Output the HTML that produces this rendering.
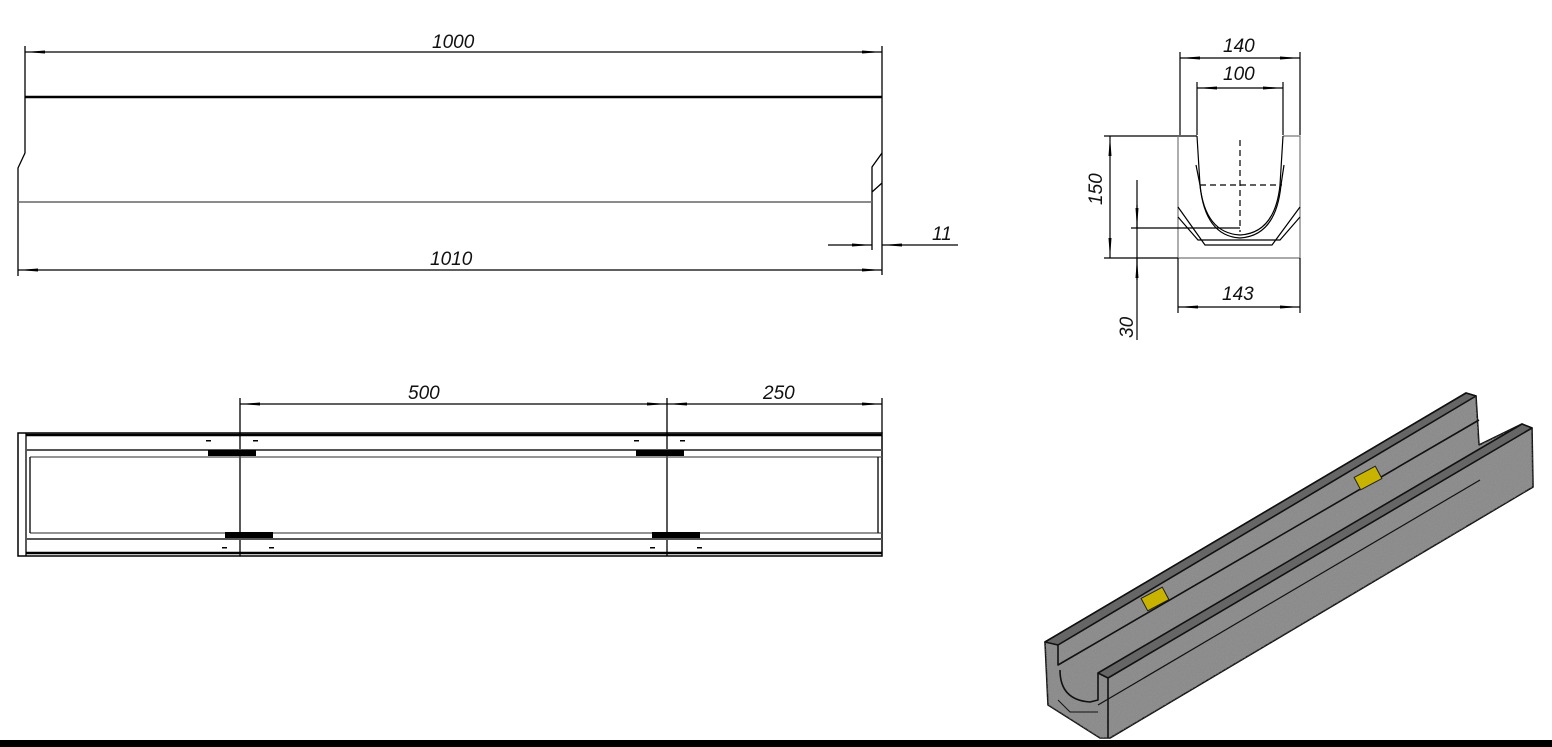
<!DOCTYPE html>
<html><head><meta charset="utf-8"><style>
body{margin:0;background:#fff;width:1552px;height:747px;overflow:hidden}
svg{display:block}
text{font-family:"Liberation Sans",sans-serif;font-style:italic;font-size:19px;fill:#111}
</style></head><body>
<svg width="1552" height="747" viewBox="0 0 1552 747" xmlns="http://www.w3.org/2000/svg">
<defs>
<marker id="a" viewBox="0 0 20 6" refX="20" refY="3" markerWidth="20" markerHeight="6" orient="auto-start-reverse" markerUnits="userSpaceOnUse"><path d="M0,1.5 L20,3 L0,4.5z" fill="#000"/></marker>
<filter id="n"><feTurbulence type="fractalNoise" baseFrequency="0.9" numOctaves="2" result="t"/><feColorMatrix in="t" type="matrix" values="0 0 0 0 0.3 0 0 0 0 0.3 0 0 0 0 0.3 0 0 0 -1.5 1.0"/><feComposite in2="SourceGraphic" operator="in"/></filter>
</defs>
<g stroke="#000" fill="none" stroke-width="1.3">
<line x1="25" y1="46" x2="25" y2="97"/><line x1="882" y1="46" x2="882" y2="275"/>
<line x1="25" y1="52" x2="882" y2="52" marker-start="url(#a)" marker-end="url(#a)"/>
<line x1="25" y1="97" x2="882" y2="97" stroke-width="2.5"/>
<path d="M25,97 L25,153 L18,168 L18,276"/>
<path d="M882,153 L872,167 L872,250 M872,192 L882,183"/>
<line x1="18" y1="202" x2="872" y2="202" stroke="#666" stroke-width="1.5"/>
<line x1="18" y1="270" x2="882" y2="270" marker-start="url(#a)" marker-end="url(#a)"/>
<line x1="828" y1="245" x2="872" y2="245" marker-end="url(#a)"/>
<line x1="958" y1="245" x2="882" y2="245" marker-end="url(#a)"/>
<line x1="240" y1="398" x2="240" y2="556"/><line x1="667" y1="398" x2="667" y2="556"/>
<line x1="882" y1="398" x2="882" y2="433"/>
<line x1="240" y1="404" x2="667" y2="404" marker-start="url(#a)" marker-end="url(#a)"/>
<line x1="667" y1="404" x2="882" y2="404" marker-start="url(#a)" marker-end="url(#a)"/>
<rect x="18" y="433" width="864" height="123" stroke-width="1.5"/>
<line x1="26" y1="433" x2="26" y2="556"/>
<line x1="26" y1="435" x2="882" y2="435" stroke-width="2.5"/>
<line x1="26" y1="553" x2="882" y2="553" stroke-width="2.5"/>
<line x1="26" y1="450" x2="882" y2="450" stroke="#555" stroke-width="2"/>
<line x1="30" y1="457" x2="882" y2="457" stroke="#555"/>
<line x1="30" y1="533" x2="882" y2="533" stroke="#555"/>
<line x1="26" y1="539" x2="882" y2="539" stroke="#555" stroke-width="2"/>
<line x1="30" y1="457" x2="30" y2="533"/>
<line x1="878" y1="457" x2="878" y2="533"/>
</g>
<g fill="#000">
<rect x="208" y="450" width="48" height="6"/><rect x="636" y="450" width="48" height="6"/>
<rect x="225" y="532" width="48" height="6"/><rect x="652" y="532" width="48" height="6"/>
<rect x="206" y="440" width="5" height="1.5"/><rect x="253" y="440" width="5" height="1.5"/>
<rect x="634" y="440" width="5" height="1.5"/><rect x="680" y="440" width="5" height="1.5"/>
<rect x="222" y="547" width="5" height="1.5"/><rect x="269" y="547" width="5" height="1.5"/>
<rect x="650" y="547" width="5" height="1.5"/><rect x="697" y="547" width="5" height="1.5"/>
</g>
<text x="432" y="48">1000</text>
<text x="430" y="265">1010</text>
<text x="932" y="240">11</text>
<text x="408" y="399">500</text>
<text x="763" y="399">250</text>
<g stroke="#000" fill="none" stroke-width="1.2">
<line x1="1180" y1="52" x2="1180" y2="135"/><line x1="1300" y1="52" x2="1300" y2="135"/>
<line x1="1180" y1="58" x2="1300" y2="58" marker-start="url(#a)" marker-end="url(#a)"/>
<line x1="1197" y1="82" x2="1197" y2="135"/><line x1="1283" y1="82" x2="1283" y2="135"/>
<line x1="1197" y1="88" x2="1283" y2="88" marker-start="url(#a)" marker-end="url(#a)"/>
<line x1="1104" y1="136" x2="1197" y2="136"/>
<path d="M1283,136 L1300,136 L1300,258 L1178,258 L1178,136" stroke="#777"/>
<path d="M1197,136 L1200,185 Q1205,233 1240,235 Q1275,233 1280,185 L1283,136"/>
<path d="M1196,165 L1200,185 Q1205,236 1240,238 Q1276,236 1281,185 L1284,165"/>
<path d="M1178,207 L1205,245 L1272,245 L1300,207 M1178,217 L1198,240 L1280,240 L1300,217"/>
<line x1="1104" y1="258" x2="1178" y2="258"/>
<line x1="1110" y1="136" x2="1110" y2="258" marker-start="url(#a)" marker-end="url(#a)"/>
<line x1="1131" y1="228" x2="1240" y2="228"/>
<line x1="1137" y1="180" x2="1137" y2="340"/>
<line x1="1137" y1="205" x2="1137" y2="228" marker-end="url(#a)"/>
<line x1="1137" y1="280" x2="1137" y2="258" marker-end="url(#a)"/>
<line x1="1178" y1="258" x2="1178" y2="313"/><line x1="1300" y1="258" x2="1300" y2="313"/>
<line x1="1178" y1="307" x2="1300" y2="307" marker-start="url(#a)" marker-end="url(#a)"/>
<path d="M1240,140 L1240,232 M1200,185 L1282,185" stroke-dasharray="6,4"/>
</g>
<text x="1223" y="52">140</text>
<text x="1223" y="80">100</text>
<text x="1222" y="300">143</text>
<text transform="translate(1102,205) rotate(-90)">150</text>
<text transform="translate(1133,338) rotate(-90)">30</text>
<g stroke="#111" stroke-width="1.6" stroke-linejoin="round">
<path d="M1045,642 L1466,393 L1476,396 L1479,445 L1522,424 L1532,428 L1533,487 L1110,738 L1100,738 L1048,705 Z" fill="#8a8a8a"/>
<path d="M1045,642 L1466,393 L1476,396 L1479,445 L1522,424 L1532,428 L1533,487 L1110,738 L1100,738 L1048,705 Z" fill="#8a8a8a" filter="url(#n)" stroke="none"/>
<path d="M1045,642 L1466,393 L1476,396 L1058,645 Z" fill="#666"/>
<path d="M1058,645 L1058,665 L1479,420" fill="none"/>
<path d="M1098,673 L1522,424 L1532,428 L1108,678 Z" fill="#666"/>
<path d="M1108,678 L1108,738 M1060,670 Q1060,700 1090,702 L1098,700 L1098,673" fill="none"/>
<path d="M1098,705 L1480,480" fill="none" stroke-width="1.2"/>
<path d="M1058,700 L1070,712 L1098,712" fill="none" stroke-width="1"/>
</g>
<rect x="1143" y="592" width="24" height="14" fill="#c8b400" stroke="#222" transform="rotate(-28 1155 599)"/>
<rect x="1356" y="471" width="24" height="14" fill="#c8b400" stroke="#222" transform="rotate(-28 1368 478)"/>
<rect x="0" y="740" width="1552" height="7" fill="#000"/>
</svg>
</body></html>
